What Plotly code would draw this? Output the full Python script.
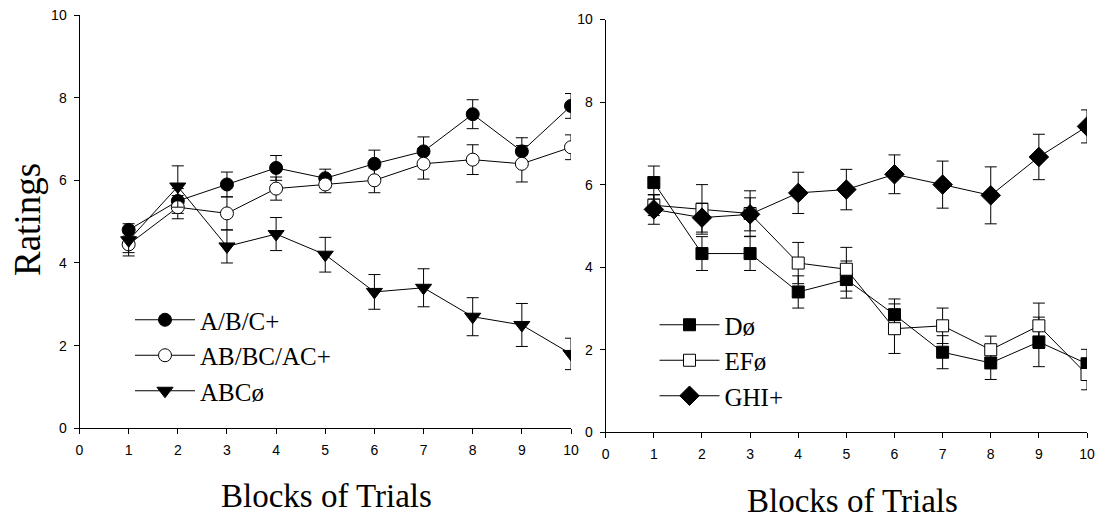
import plotly.graph_objects as go

blocks = [1, 2, 3, 4, 5, 6, 7, 8, 9, 10]

# Left panel
abc_plus = [4.8, 5.5, 5.9, 6.3, 6.05, 6.4, 6.7, 7.6, 6.7, 7.8]
abc_plus_err = [0.15, 0.3, 0.3, 0.3, 0.22, 0.33, 0.35, 0.35, 0.33, 0.3]
ab_bc_ac = [4.45, 5.35, 5.2, 5.8, 5.9, 6.0, 6.4, 6.5, 6.4, 6.8]
ab_bc_ac_err = [0.28, 0.28, 0.4, 0.28, 0.2, 0.3, 0.37, 0.36, 0.44, 0.3]
abc_null = [4.55, 5.85, 4.4, 4.7, 4.2, 3.3, 3.4, 2.7, 2.5, 1.8]
abc_null_err = [0.3, 0.5, 0.4, 0.4, 0.42, 0.42, 0.46, 0.46, 0.52, 0.38]

# Right panel
d_null = [6.05, 4.33, 4.33, 3.4, 3.7, 2.85, 1.94, 1.68, 2.19, 1.66]
d_null_err = [0.4, 0.41, 0.41, 0.39, 0.45, 0.38, 0.4, 0.4, 0.6, 0.35]
ef_null = [5.5, 5.4, 5.3, 4.1, 3.95, 2.51, 2.58, 2.0, 2.58, 1.4]
ef_null_err = [0.25, 0.6, 0.55, 0.5, 0.53, 0.6, 0.43, 0.33, 0.55, 0.37]
ghi_plus = [5.4, 5.2, 5.28, 5.8, 5.88, 6.25, 6.0, 5.74, 6.67, 7.41]
ghi_plus_err = [0.36, 0.35, 0.4, 0.5, 0.49, 0.47, 0.57, 0.69, 0.55, 0.4]

x_ticks = list(range(0, 11))
y_ticks = [0, 2, 4, 6, 8, 10]

W, H = 1104, 517   # page has an 8px body margin
OFF = 8

fig = go.Figure()


def add_series(x, y, err, name, symbol, fill, size, xa, ya, legend):
    fig.add_trace(go.Scatter(
        x=x, y=y, name=name, mode="lines+markers",
        xaxis=xa, yaxis=ya, legend=legend,
        line=dict(color="black", width=1),
        marker=dict(symbol=symbol, size=size, color=fill,
                    line=dict(color="black", width=1)),
        error_y=dict(type="data", array=err, visible=True,
                     color="black", thickness=1, width=6),
    ))


add_series(blocks, abc_plus, abc_plus_err, "A/B/C+", "circle", "black", 13, "x", "y", "legend")
add_series(blocks, ab_bc_ac, ab_bc_ac_err, "AB/BC/AC+", "circle", "white", 13, "x", "y", "legend")
add_series(blocks, abc_null, abc_null_err, "ABCø", "triangle-down", "black", 14, "x", "y", "legend")

add_series(blocks, d_null, d_null_err, "Dø", "square", "black", 12, "x2", "y2", "legend2")
add_series(blocks, ef_null, ef_null_err, "EFø", "square", "white", 12, "x2", "y2", "legend2")
add_series(blocks, ghi_plus, ghi_plus_err, "GHI+", "diamond", "black", 15, "x2", "y2", "legend2")

tick_font = dict(family="Liberation Sans, Arial, sans-serif", size=14, color="black")
axis_common = dict(
    showline=True, linecolor="black", linewidth=1,
    ticks="outside", ticklen=5, tickwidth=1, tickcolor="black",
    showgrid=False, zeroline=False, tickfont=tick_font,
    range=[0, 10], fixedrange=True, automargin=False,
    ticklabeloverflow="allow",
)
x_axis_common = dict(axis_common, tickvals=x_ticks, ticklabelstandoff=4)
y_axis_common = dict(axis_common, tickvals=y_ticks, ticklabelstandoff=4)


def px_x(x):
    return (x - OFF) / W


def px_y(y):
    return 1 - (y - OFF) / H


legend_font = dict(family="Liberation Serif, Times New Roman, serif", size=25, color="black")

fig.update_layout(
    width=W, height=H,
    margin=dict(l=0, r=0, t=0, b=0, pad=0, autoexpand=False),
    paper_bgcolor="white", plot_bgcolor="white",
    showlegend=True,
    xaxis=dict(x_axis_common, domain=[px_x(79.5), px_x(571)], anchor="y"),
    yaxis=dict(y_axis_common, domain=[px_y(428.3), px_y(15)], anchor="x"),
    xaxis2=dict(x_axis_common, domain=[px_x(605.7), px_x(1087)], anchor="y2"),
    yaxis2=dict(y_axis_common, domain=[px_y(432.3), px_y(19.5)], anchor="x2"),
    legend=dict(
        x=px_x(130), y=px_y(297), xanchor="left", yanchor="top",
        bgcolor="rgba(0,0,0,0)", borderwidth=0, itemwidth=60,
        font=legend_font, tracegroupgap=0,
    ),
    legend2=dict(
        x=px_x(654.5), y=px_y(302), xanchor="left", yanchor="top",
        bgcolor="rgba(0,0,0,0)", borderwidth=0, itemwidth=60,
        font=legend_font, tracegroupgap=0,
    ),
)

title_font = dict(family="Liberation Serif, Times New Roman, serif", size=33, color="black")
fig.add_annotation(text="Blocks of Trials", xref="paper", yref="paper",
                   x=px_x(326), y=px_y(496), showarrow=False, font=title_font,
                   xanchor="center", yanchor="middle")
fig.add_annotation(text="Blocks of Trials", xref="paper", yref="paper",
                   x=px_x(852), y=px_y(501), showarrow=False, font=title_font,
                   xanchor="center", yanchor="middle")
fig.add_annotation(text="Ratings", xref="paper", yref="paper",
                   x=px_x(27), y=px_y(220), showarrow=False, textangle=-90,
                   font=dict(family="Liberation Serif, Times New Roman, serif", size=37, color="black"),
                   xanchor="center", yanchor="middle")

fig.write_html("out.html")
